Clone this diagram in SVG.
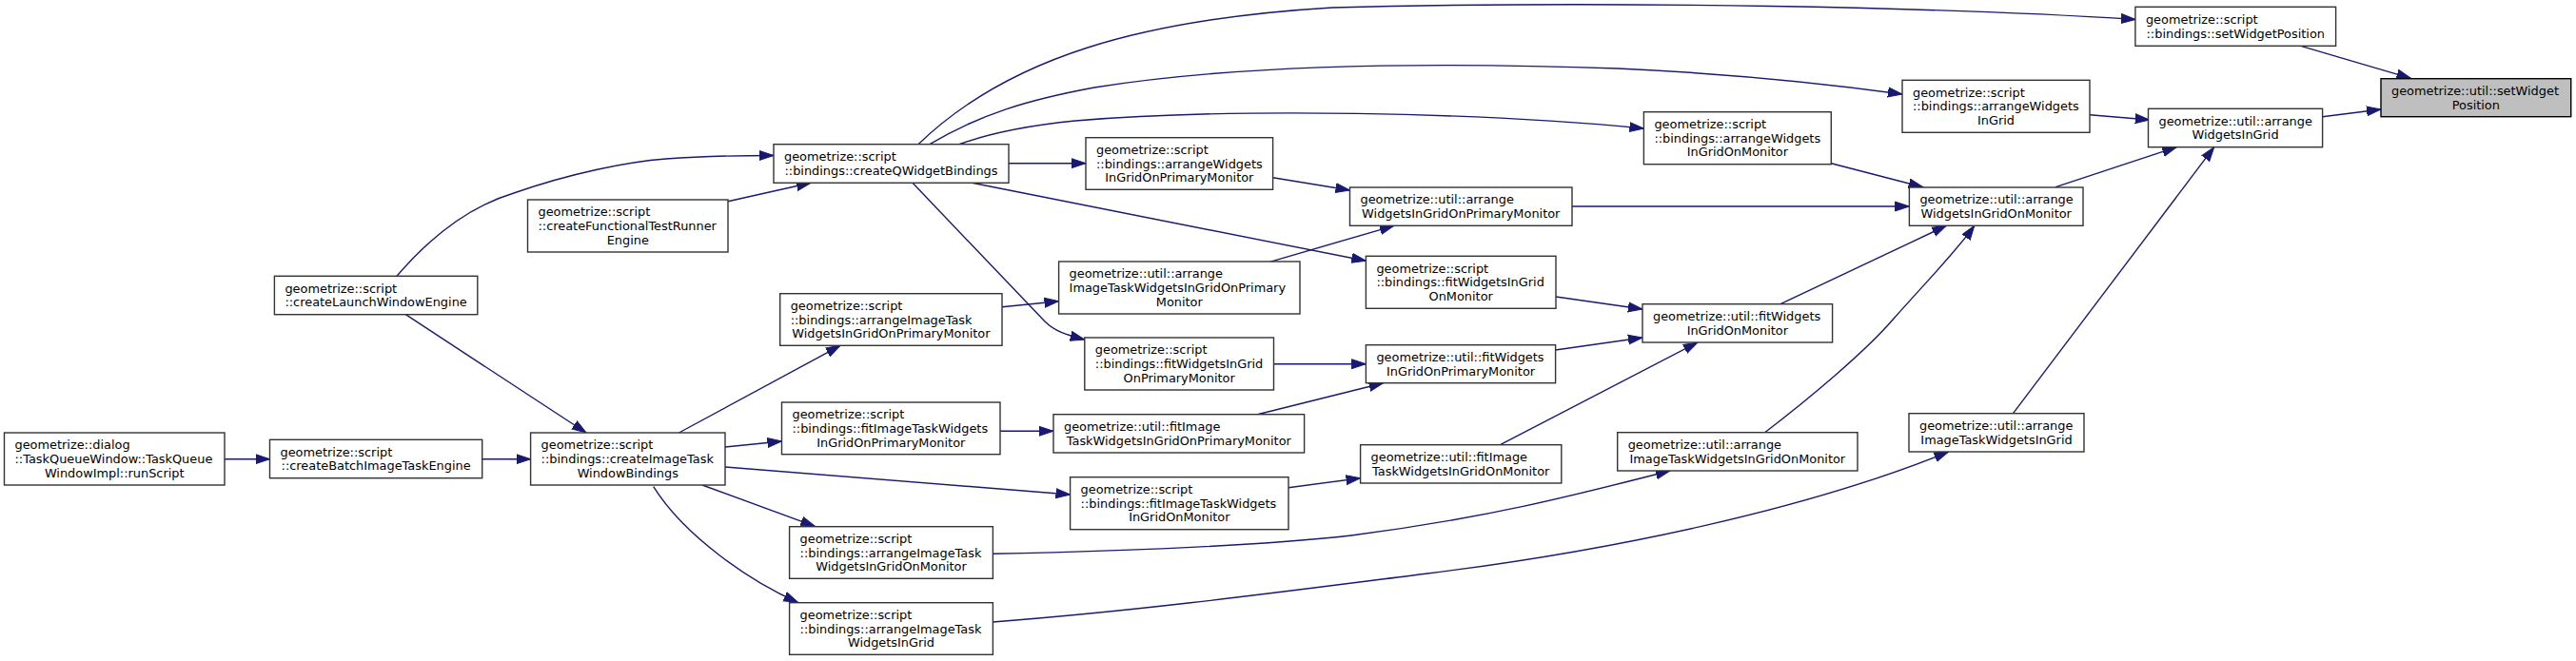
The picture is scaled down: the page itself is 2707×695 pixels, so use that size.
<svg xmlns="http://www.w3.org/2000/svg" width="2707" height="695" viewBox="0 0 2707 695">
<style>
.node rect{fill:#fff;stroke:#333;stroke-width:1.4}
.node.target rect{fill:#bfbfbf;stroke:#000}
.node text{font-family:"DejaVu Sans","Liberation Sans",sans-serif;font-size:12.9px;fill:#000}
.l{text-anchor:start}.c{text-anchor:middle}
.edges path{fill:none;stroke:#191970;stroke-width:1.4;marker-end:url(#ah)}
</style>
<defs>
<marker id="ah" markerUnits="userSpaceOnUse" markerWidth="16" markerHeight="12" viewBox="0 0 16 12" refX="15" refY="6" orient="auto">
<path d="M0,1 L15,6 L0,11 Z" fill="#191970" stroke="#191970" stroke-width="1"/>
</marker>
</defs>
<rect width="2707" height="695" fill="#fff"/>
<g class="edges">
<path d="M236,482.7 L283.5,482.7"/>
<path d="M506.7,482.7 L557.6,482.7"/>
<path d="M417,290.3 C460,240 500,215 540,203 C600,182 660,170 700,167 C740,164 780,163.5 813,163.5"/>
<path d="M426.3,330.7 L616,455"/>
<path d="M765,211.7 L852,192.3"/>
<path d="M965,151.7 C1060,60 1200,20 1400,8 C1700,0 2050,8 2244,20.5"/>
<path d="M977,151.7 C1030,120 1080,105 1150,92 C1300,68 1500,65 1700,72 C1830,78 1920,88 1999,99"/>
<path d="M1008,151.7 C1040,140 1080,132 1130,127 C1300,113 1550,118 1727.4,135"/>
<path d="M1060,171.7 L1141,171.7"/>
<path d="M1021.5,192.3 L1435.4,274.3"/>
<path d="M959,192.3 L1098,338 C1108,348 1120,352 1139.8,357"/>
<path d="M1337.6,186.7 L1418.5,200"/>
<path d="M1334.5,275.3 L1465,237.3"/>
<path d="M1053,322.7 L1112.6,316.7"/>
<path d="M1652,217 L2006.4,217"/>
<path d="M1924.3,171.7 L2020.7,196.7"/>
<path d="M2160.2,196.7 L2287.3,154.7"/>
<path d="M2196,120.7 L2258.8,126"/>
<path d="M2440.6,122.7 L2502,115"/>
<path d="M2417.8,48.3 L2533.5,82.3"/>
<path d="M2115.5,434.7 L2326.7,154.7"/>
<path d="M1635,312 L1726,325"/>
<path d="M1871,319.7 L2045.3,237.3"/>
<path d="M1854.6,454.7 C1900,420 1960,370 1990,335 C2030,290 2055,265 2074.8,237.3"/>
<path d="M1634.6,368 L1726,355"/>
<path d="M1338.5,382.7 L1435.4,382.7"/>
<path d="M1321.5,435.7 L1453.7,402.7"/>
<path d="M1051,453.3 L1107,453.3"/>
<path d="M1576.5,467.7 L1784,360"/>
<path d="M1354,512.7 L1429.6,502.7"/>
<path d="M1043.4,582.3 C1200,579 1330,573 1420,563 C1560,545 1650,522 1755,495"/>
<path d="M1043.4,654 C1200,642 1350,622 1500,603 C1700,578 1900,535 2047.5,475"/>
<path d="M713.5,455 L883,363.3"/>
<path d="M762,470 L821.5,464"/>
<path d="M762,491 L1124.6,520"/>
<path d="M738,510 L856.3,553.3"/>
<path d="M686.7,511.7 C720,565 790,612 838.5,633.3"/>
</g>
<g id="n1" class="node"><rect x="4.5" y="455" width="231.5" height="55"/><text class="l" x="15.5" y="472.3">geometrize::dialog</text><text class="l" x="15.5" y="487">::TaskQueueWindow::TaskQueue</text><text class="c" x="120.25" y="501.7">WindowImpl::runScript</text></g>
<g id="n2" class="node"><rect x="283.5" y="462.3" width="223.2" height="40.4"/><text class="l" x="294.5" y="479.65">geometrize::script</text><text class="c" x="395.1" y="494.35">::createBatchImageTaskEngine</text></g>
<g id="n3" class="node"><rect x="557.6" y="455" width="204.4" height="55"/><text class="l" x="568.6" y="472.3">geometrize::script</text><text class="l" x="568.6" y="487">::bindings::createImageTask</text><text class="c" x="659.8" y="501.7">WindowBindings</text></g>
<g id="n4" class="node"><rect x="288.4" y="290.3" width="213.4" height="40.4"/><text class="l" x="299.4" y="307.65">geometrize::script</text><text class="c" x="395.1" y="322.35">::createLaunchWindowEngine</text></g>
<g id="n5" class="node"><rect x="554.5" y="210" width="210.5" height="55"/><text class="l" x="565.5" y="227.3">geometrize::script</text><text class="l" x="565.5" y="242">::createFunctionalTestRunner</text><text class="c" x="659.75" y="256.7">Engine</text></g>
<g id="n6" class="node"><rect x="813" y="151.7" width="247" height="40.6"/><text class="l" x="824" y="169.15">geometrize::script</text><text class="c" x="936.5" y="183.85">::bindings::createQWidgetBindings</text></g>
<g id="n7" class="node"><rect x="1141" y="144.7" width="196.6" height="54.6"/><text class="l" x="1152" y="161.8">geometrize::script</text><text class="l" x="1152" y="176.5">::bindings::arrangeWidgets</text><text class="c" x="1239.3" y="191.2">InGridOnPrimaryMonitor</text></g>
<g id="n8" class="node"><rect x="1112.6" y="275" width="253.4" height="55"/><text class="l" x="1123.6" y="292.3">geometrize::util::arrange</text><text class="l" x="1123.6" y="307">ImageTaskWidgetsInGridOnPrimary</text><text class="c" x="1239.3" y="321.7">Monitor</text></g>
<g id="n9" class="node"><rect x="819.7" y="308.7" width="233.3" height="54.6"/><text class="l" x="830.7" y="325.8">geometrize::script</text><text class="l" x="830.7" y="340.5">::bindings::arrangeImageTask</text><text class="c" x="936.35" y="355.2">WidgetsInGridOnPrimaryMonitor</text></g>
<g id="n10" class="node"><rect x="1139.8" y="355" width="198.7" height="55"/><text class="l" x="1150.8" y="372.3">geometrize::script</text><text class="l" x="1150.8" y="387">::bindings::fitWidgetsInGrid</text><text class="c" x="1239.15" y="401.7">OnPrimaryMonitor</text></g>
<g id="n11" class="node"><rect x="821.5" y="423" width="229.5" height="54.7"/><text class="l" x="832.5" y="440.15">geometrize::script</text><text class="l" x="832.5" y="454.85">::bindings::fitImageTaskWidgets</text><text class="c" x="936.25" y="469.55">InGridOnPrimaryMonitor</text></g>
<g id="n12" class="node"><rect x="1107" y="435.7" width="263.6" height="40.3"/><text class="l" x="1118" y="453">geometrize::util::fitImage</text><text class="c" x="1238.8" y="467.7">TaskWidgetsInGridOnPrimaryMonitor</text></g>
<g id="n13" class="node"><rect x="1124.6" y="501.7" width="229.4" height="55"/><text class="l" x="1135.6" y="519">geometrize::script</text><text class="l" x="1135.6" y="533.7">::bindings::fitImageTaskWidgets</text><text class="c" x="1239.3" y="548.4">InGridOnMonitor</text></g>
<g id="n14" class="node"><rect x="829.6" y="553.7" width="213.8" height="54.6"/><text class="l" x="840.6" y="570.8">geometrize::script</text><text class="l" x="840.6" y="585.5">::bindings::arrangeImageTask</text><text class="c" x="936.5" y="600.2">WidgetsInGridOnMonitor</text></g>
<g id="n15" class="node"><rect x="829.6" y="633.7" width="213.8" height="54.6"/><text class="l" x="840.6" y="650.8">geometrize::script</text><text class="l" x="840.6" y="665.5">::bindings::arrangeImageTask</text><text class="c" x="936.5" y="680.2">WidgetsInGrid</text></g>
<g id="n16" class="node"><rect x="1418.5" y="197" width="233.5" height="40.3"/><text class="l" x="1429.5" y="214.3">geometrize::util::arrange</text><text class="c" x="1535.25" y="229">WidgetsInGridOnPrimaryMonitor</text></g>
<g id="n17" class="node"><rect x="1435.4" y="269.3" width="199.6" height="55"/><text class="l" x="1446.4" y="286.6">geometrize::script</text><text class="l" x="1446.4" y="301.3">::bindings::fitWidgetsInGrid</text><text class="c" x="1535.2" y="316">OnMonitor</text></g>
<g id="n18" class="node"><rect x="1435.4" y="362.7" width="199.2" height="40"/><text class="l" x="1446.4" y="379.85">geometrize::util::fitWidgets</text><text class="c" x="1535" y="394.55">InGridOnPrimaryMonitor</text></g>
<g id="n19" class="node"><rect x="1429.6" y="467.7" width="211.2" height="40.3"/><text class="l" x="1440.6" y="485">geometrize::util::fitImage</text><text class="c" x="1535.2" y="499.7">TaskWidgetsInGridOnMonitor</text></g>
<g id="n20" class="node"><rect x="1727.4" y="117.7" width="196.9" height="55"/><text class="l" x="1738.4" y="135">geometrize::script</text><text class="l" x="1738.4" y="149.7">::bindings::arrangeWidgets</text><text class="c" x="1825.85" y="164.4">InGridOnMonitor</text></g>
<g id="n21" class="node"><rect x="1726" y="319.7" width="199.6" height="40.3"/><text class="l" x="1737" y="337">geometrize::util::fitWidgets</text><text class="c" x="1825.8" y="351.7">InGridOnMonitor</text></g>
<g id="n22" class="node"><rect x="1699.7" y="454.7" width="252.3" height="40.3"/><text class="l" x="1710.7" y="472">geometrize::util::arrange</text><text class="c" x="1825.85" y="486.7">ImageTaskWidgetsInGridOnMonitor</text></g>
<g id="n23" class="node"><rect x="2006.4" y="197" width="182.6" height="40.3"/><text class="l" x="2017.4" y="214.3">geometrize::util::arrange</text><text class="c" x="2097.7" y="229">WidgetsInGridOnMonitor</text></g>
<g id="n24" class="node"><rect x="1999" y="84.3" width="197" height="55"/><text class="l" x="2010" y="101.6">geometrize::script</text><text class="l" x="2010" y="116.3">::bindings::arrangeWidgets</text><text class="c" x="2097.5" y="131">InGrid</text></g>
<g id="n25" class="node"><rect x="2006" y="434.7" width="184" height="40.3"/><text class="l" x="2017" y="452">geometrize::util::arrange</text><text class="c" x="2098" y="466.7">ImageTaskWidgetsInGrid</text></g>
<g id="n26" class="node"><rect x="2243.9" y="7.3" width="210.7" height="41"/><text class="l" x="2254.9" y="24.95">geometrize::script</text><text class="c" x="2349.25" y="39.65">::bindings::setWidgetPosition</text></g>
<g id="n27" class="node"><rect x="2257.5" y="114.3" width="183.1" height="40.4"/><text class="l" x="2268.5" y="131.65">geometrize::util::arrange</text><text class="c" x="2349.05" y="146.35">WidgetsInGrid</text></g>
<g id="n28" class="node target"><rect x="2502" y="82.7" width="199.7" height="40"/><text class="l" x="2513" y="99.85">geometrize::util::setWidget</text><text class="c" x="2601.85" y="114.55">Position</text></g>
</svg>
